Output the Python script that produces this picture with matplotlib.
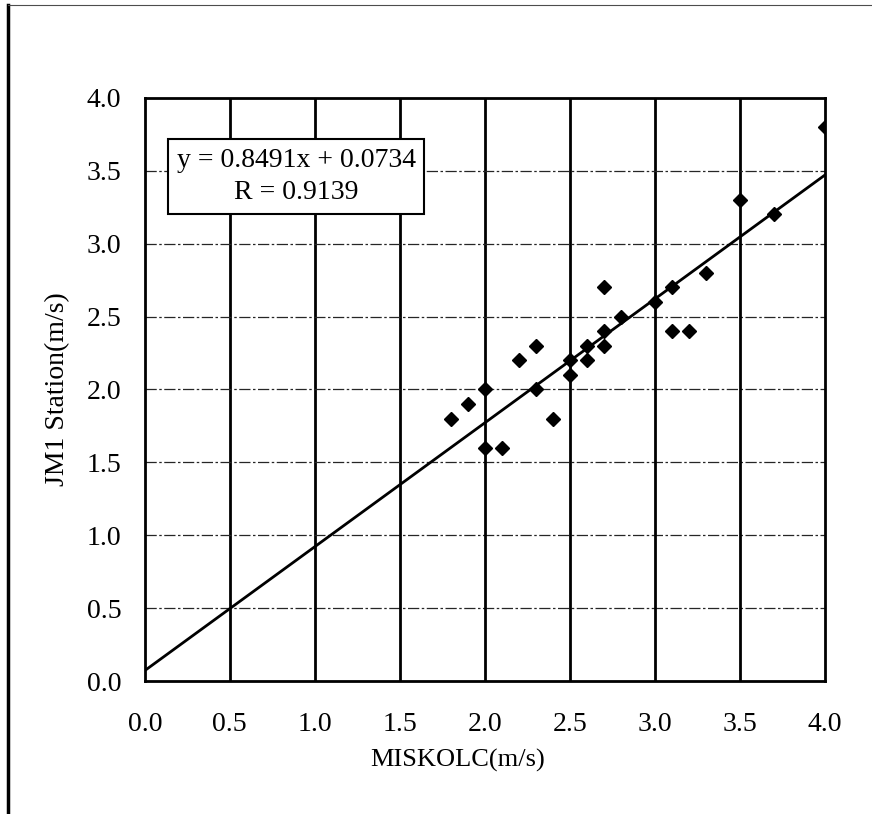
import numpy as np
import matplotlib
matplotlib.use('Agg')
import matplotlib.pyplot as plt
from matplotlib.lines import Line2D

# station pairs
miskolc = [1.8, 1.9, 2.0, 2.0, 2.1, 2.2, 2.3, 2.3, 2.4, 2.5, 2.5, 2.6, 2.6,
           2.7, 2.7, 2.7, 2.8, 3.0, 3.1, 3.1, 3.2, 3.3, 3.5, 3.7, 4.0]
jm1 = [1.8, 1.9, 2.0, 1.6, 1.6, 2.2, 2.3, 2.0, 1.8, 2.2, 2.1, 2.3, 2.2,
       2.7, 2.4, 2.3, 2.5, 2.6, 2.7, 2.4, 2.4, 2.8, 3.3, 3.2, 3.8]

slope = 0.8491
intercept = 0.0734
r_value = 0.9139

ticks = [0.0, 0.5, 1.0, 1.5, 2.0, 2.5, 3.0, 3.5, 4.0]

plt.rcParams['font.family'] = ['Liberation Serif', 'DejaVu Serif']

fig = plt.figure(figsize=(8.72, 8.14), dpi=100)
ax = fig.add_axes([0.166, 0.163, 0.780, 0.717])

# grid: solid verticals, dashed horizontals
for t in ticks[1:-1]:
    ax.axvline(t, color='black', lw=2.0, zorder=1)
    ax.axhline(t, color='0.15', lw=0.9, ls=(0, (9, 2, 2, 2)), zorder=1)

xfit = np.array([0.0, 4.0])
ax.plot(xfit, slope * xfit + intercept, color='black', lw=2.0, zorder=2)
ax.plot(miskolc, jm1, ls='none', marker='D', ms=7.5, color='black', zorder=3)

ax.set_xlim(0, 4.0)
ax.set_ylim(0, 4.0)
ax.set_xticks(ticks)
ax.set_yticks(ticks)
ax.set_xticklabels([f'{t:.1f}' for t in ticks])
ax.set_yticklabels([f'{t:.1f}' for t in ticks])
ax.tick_params(length=0, labelsize=20)
ax.tick_params(axis='x', pad=22)
ax.tick_params(axis='y', pad=17)
for s in ax.spines.values():
    s.set_linewidth(2.0)
    s.set_color('black')

ax.set_xlabel('MISKOLC(m/s)', fontsize=19, labelpad=9, x=0.46)
ax.set_ylabel('JM1 Station(m/s)', fontsize=20, labelpad=12)

ax.text(0.89, 3.46, f'y = {slope}x + {intercept}\nR = {r_value}',
        ha='center', va='center', fontsize=20, linespacing=1.4,
        bbox=dict(boxstyle='square,pad=0.3', fc='white', ec='black', lw=1.5),
        zorder=5)

# page frame from the scan
fig.add_artist(Line2D([0.009, 0.009], [0.0, 0.994], color='black', lw=2.5))
fig.add_artist(Line2D([0.009, 1.0], [0.994, 0.994], color='0.3', lw=0.8))

fig.savefig('out.png', dpi=100)
